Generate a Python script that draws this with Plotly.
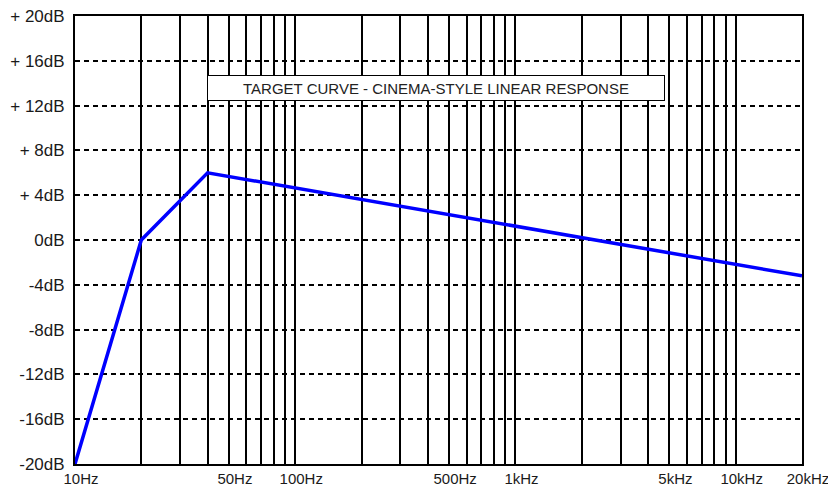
import plotly.graph_objects as go

# Target curve data
freq_hz = [10, 20, 40, 20000]
gain_db = [-20, 0, 6, -3.2]

# Axis ticks
x_tick_vals = [10, 50, 100, 500, 1000, 5000, 10000, 20000]
x_tick_text = ["10Hz", "50Hz", "100Hz", "500Hz", "1kHz", "5kHz", "10kHz", "20kHz"]
x_grid_vals = [20, 30, 40, 50, 60, 70, 80, 90,
               100, 200, 300, 400, 500, 600, 700, 800, 900,
               1000, 2000, 3000, 4000, 5000, 6000, 7000, 8000, 9000, 10000]
y_tick_vals = [20, 16, 12, 8, 4, 0, -4, -8, -12, -16, -20]
y_tick_text = ["+ 20dB", "+ 16dB", "+ 12dB", "+ 8dB", "+ 4dB", "0dB",
               "-4dB", "-8dB", "-12dB", "-16dB", "-20dB"]
title_text = "TARGET CURVE - CINEMA-STYLE LINEAR RESPONSE"

fig = go.Figure()
fig.add_trace(go.Scatter(
    x=freq_hz, y=gain_db, mode="lines",
    line=dict(color="#0000ff", width=3.5),
    hoverinfo="skip", showlegend=False,
))

font_family = "Liberation Sans, Arial, Helvetica, sans-serif"

# page body has an 8px default margin, so the figure is 8px smaller
fig.update_layout(
    width=828, height=480,
    margin=dict(l=67, r=34, t=8, b=24, autoexpand=False),
    paper_bgcolor="white", plot_bgcolor="white",
    font=dict(family=font_family, size=17, color="#1a1a1a"),
    showlegend=False,
)

fig.update_xaxes(
    type="log", range=[1, 4.30103],
    tickmode="array", tickvals=x_tick_vals, ticktext=x_tick_text,
    ticks="", ticklabelshift=6, ticklabelstandoff=0,
    ticklabeloverflow="allow",
    showgrid=False,
    minor=dict(tickmode="array", tickvals=x_grid_vals, showgrid=True,
               gridcolor="black", gridwidth=2, ticks=""),
    showline=True, mirror=True, linecolor="black", linewidth=2,
    zeroline=False, automargin=False,
    tickfont=dict(size=15),
)

fig.update_yaxes(
    range=[-20, 20],
    tickmode="array", tickvals=y_tick_vals, ticktext=y_tick_text,
    ticks="", ticklabelstandoff=5,
    ticklabeloverflow="allow",
    showgrid=True, gridcolor="black", gridwidth=2, griddash="5px,4px",
    showline=True, mirror=True, linecolor="black", linewidth=2,
    zeroline=False, automargin=False,
    tickfont=dict(size=17),
)

fig.add_annotation(
    xref="paper", yref="paper",
    x=(436 - 75) / 727, y=(464 - 88.5) / 448,
    xanchor="center", yanchor="middle",
    text=title_text, showarrow=False,
    width=456, height=24,
    bgcolor="white", bordercolor="black", borderwidth=1, borderpad=0,
    font=dict(family=font_family, size=15, color="#222"),
)

fig.write_html("out.html")
